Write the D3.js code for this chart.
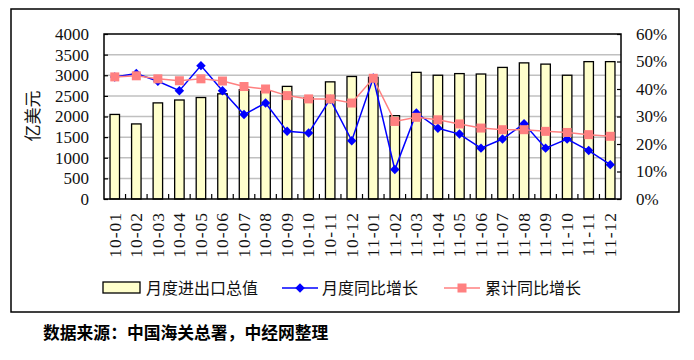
<!DOCTYPE html>
<html>
<head>
<meta charset="utf-8">
<script src="https://cdn.jsdelivr.net/npm/d3@7/dist/d3.min.js"></script>
<style>
  body { margin: 0; background: #fff; }
  svg { display: block; }
</style>
</head>
<body>
<svg id="chart" width="694" height="360"></svg>
<script>
// data
var months = ["10-01","10-02","10-03","10-04","10-05","10-06","10-07","10-08","10-09","10-10","10-11","10-12",
              "11-01","11-02","11-03","11-04","11-05","11-06","11-07","11-08","11-09","11-10","11-11","11-12"];
var totalValue = [2050, 1820, 2330, 2400, 2460, 2550, 2650, 2610, 2730, 2450, 2840, 2970,
                  2950, 2020, 3070, 3000, 3040, 3030, 3190, 3300, 3270, 3000, 3330, 3330];
var monthlyGrowth = [44.4, 45.6, 42.8, 39.4, 48.5, 39.4, 30.7, 34.9, 24.6, 24.0, 36.3, 21.2,
                     44.0, 10.7, 31.3, 25.7, 23.6, 18.5, 21.8, 27.4, 18.5, 21.8, 17.6, 12.5];
var cumulGrowth = [44.4, 44.8, 43.7, 43.0, 43.7, 42.9, 40.9, 40.0, 37.6, 36.4, 36.4, 34.9,
                   43.9, 28.2, 29.7, 28.8, 27.3, 25.8, 25.2, 25.2, 24.6, 24.2, 23.4, 22.8];
var leftTicks = [0, 500, 1000, 1500, 2000, 2500, 3000, 3500, 4000];
var rightTicks = [0, 10, 20, 30, 40, 50, 60];
var legendLabels = ["月度进出口总值", "月度同比增长", "累计同比增长"];

var svg = d3.select("#chart");
var pLeft = 104, pRight = 621, pTop = 34, pBottom = 199;
var numFont = "\"Liberation Serif\", \"DejaVu Serif\", serif";
var cjkFont = "\"Noto Sans CJK SC\", sans-serif";

var x = d3.scaleBand().domain(months).range([pLeft, pRight]);
var y = d3.scaleLinear().domain([0, 4000]).range([pBottom, pTop]);
var y2 = d3.scaleLinear().domain([0, 60]).range([pBottom, pTop]);

// outer frame
svg.append("rect")
  .attr("x", 11).attr("y", 9).attr("width", 668).attr("height", 303)
  .attr("fill", "none").attr("stroke", "#000").attr("stroke-width", 1.5);

// grid
svg.append("g").selectAll("line")
  .data(leftTicks.filter(function(d) { return d > 0 && d < 4000; }))
  .enter().append("line")
  .attr("x1", pLeft).attr("x2", pRight)
  .attr("y1", function(d) { return y(d); })
  .attr("y2", function(d) { return y(d); })
  .attr("stroke", "#c0c0c0").attr("stroke-width", 1.5);

// bars
var barW = x.bandwidth() * 0.44;
svg.append("g").selectAll("rect")
  .data(totalValue)
  .enter().append("rect")
  .attr("x", function(d, i) { return x(months[i]) + (x.bandwidth() - barW) / 2; })
  .attr("y", function(d) { return y(d); })
  .attr("width", barW)
  .attr("height", function(d) { return pBottom - y(d); })
  .attr("fill", "#ffffcc")
  .attr("stroke", "#000")
  .attr("stroke-width", 1.3);

// plot border
svg.append("rect")
  .attr("x", pLeft).attr("y", pTop).attr("width", pRight - pLeft).attr("height", pBottom - pTop)
  .attr("fill", "none").attr("stroke", "#000").attr("stroke-width", 1.5);

// left axis
var gl = svg.append("g")
  .attr("transform", "translate(" + pLeft + ",0)")
  .call(d3.axisLeft(y).tickValues(leftTicks).tickSize(-4).tickPadding(15).tickFormat(d3.format("d")));
gl.select(".domain").remove();
gl.selectAll("line").attr("stroke", "#000").attr("stroke-width", 1.2);
gl.selectAll("text").style("font-family", numFont).style("font-size", "17px").attr("fill", "#111");

// right axis
var gr = svg.append("g")
  .attr("transform", "translate(" + pRight + ",0)")
  .call(d3.axisRight(y2).tickValues(rightTicks).tickSize(-4).tickPadding(15)
    .tickFormat(function(d) { return d + "%"; }));
gr.select(".domain").remove();
gr.selectAll("line").attr("stroke", "#000").attr("stroke-width", 1.2);
gr.selectAll("text").style("font-family", numFont).style("font-size", "17px").attr("fill", "#111");

// category ticks at band edges
svg.append("g").selectAll("line")
  .data(months.slice(1))
  .enter().append("line")
  .attr("x1", function(d) { return x(d); })
  .attr("x2", function(d) { return x(d); })
  .attr("y1", pBottom).attr("y2", pBottom - 5)
  .attr("stroke", "#000").attr("stroke-width", 1.2);

// category labels
svg.append("g").selectAll("text")
  .data(months)
  .enter().append("text")
  .attr("transform", function(d) { return "translate(" + (x(d) + x.bandwidth() / 2) + ",212) rotate(-90)"; })
  .attr("text-anchor", "end")
  .attr("dy", "0.33em")
  .style("font-family", numFont).style("font-size", "17.5px")
  .attr("letter-spacing", 1).attr("fill", "#111")
  .text(function(d) { return d; });

// y title
svg.append("text")
  .attr("transform", "translate(33,116) rotate(-90)")
  .attr("text-anchor", "middle").attr("dy", "0.35em")
  .style("font-family", cjkFont).style("font-size", "17px").attr("fill", "#111")
  .text("亿美元");

var xc = function(i) { return x(months[i]) + x.bandwidth() / 2; };

// monthly growth
svg.append("path")
  .datum(monthlyGrowth)
  .attr("d", d3.line().x(function(d, i) { return xc(i); }).y(function(d) { return y2(d); }))
  .attr("fill", "none").attr("stroke", "#0000ff").attr("stroke-width", 1.5);
svg.append("g").selectAll("path")
  .data(monthlyGrowth)
  .enter().append("path")
  .attr("d", d3.symbol(d3.symbolSquare, 45))
  .attr("transform", function(d, i) { return "translate(" + xc(i) + "," + y2(d) + ") rotate(45)"; })
  .attr("fill", "#0000ff");

// cumulative growth
svg.append("path")
  .datum(cumulGrowth)
  .attr("d", d3.line().x(function(d, i) { return xc(i); }).y(function(d) { return y2(d); }))
  .attr("fill", "none").attr("stroke", "#ff8080").attr("stroke-width", 1.5);
svg.append("g").selectAll("rect")
  .data(cumulGrowth)
  .enter().append("rect")
  .attr("x", function(d, i) { return xc(i) - 4.5; })
  .attr("y", function(d) { return y2(d) - 4.5; })
  .attr("width", 9).attr("height", 9)
  .attr("fill", "#ff8080");

// legend
var lg = svg.append("g").style("font-family", cjkFont).style("font-size", "16px").attr("fill", "#111");
lg.append("rect").attr("x", 103).attr("y", 282).attr("width", 37).attr("height", 11)
  .attr("fill", "#ffffcc").attr("stroke", "#000").attr("stroke-width", 1.3);
lg.append("text").attr("x", 146).attr("y", 288).attr("dy", "0.35em").text(legendLabels[0]);

lg.append("line").attr("x1", 282).attr("x2", 318).attr("y1", 288).attr("y2", 288)
  .attr("stroke", "#0000ff").attr("stroke-width", 1.5);
lg.append("path").attr("d", d3.symbol(d3.symbolSquare, 45))
  .attr("transform", "translate(300,288) rotate(45)").attr("fill", "#0000ff");
lg.append("text").attr("x", 322).attr("y", 288).attr("dy", "0.35em").text(legendLabels[1]);

lg.append("line").attr("x1", 444).attr("x2", 480).attr("y1", 288).attr("y2", 288)
  .attr("stroke", "#ff8080").attr("stroke-width", 1.5);
lg.append("rect").attr("x", 457.5).attr("y", 283.5).attr("width", 9).attr("height", 9).attr("fill", "#ff8080");
lg.append("text").attr("x", 485).attr("y", 288).attr("dy", "0.35em").text(legendLabels[2]);

// source note
svg.append("text")
  .attr("x", 43).attr("y", 333).attr("dy", "0.35em")
  .style("font-family", cjkFont).style("font-size", "16.8px").style("font-weight", 700).attr("fill", "#000")
  .text("数据来源：中国海关总署，中经网整理");
</script>
</body>
</html>
